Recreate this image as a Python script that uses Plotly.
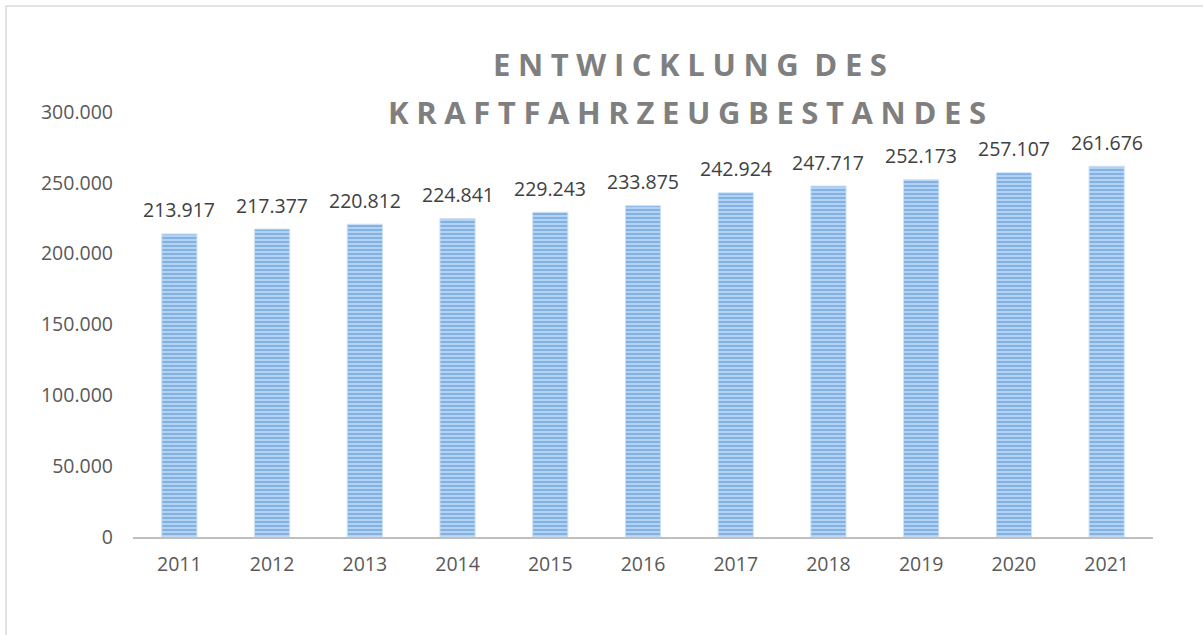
import plotly.graph_objects as go

years = ["2011", "2012", "2013", "2014", "2015", "2016", "2017", "2018", "2019", "2020", "2021"]
values = [213917, 217377, 220812, 224841, 229243, 233875, 242924, 247717, 252173, 257107, 261676]
title_line1 = ["ENTWICKLUNG", "DES"]
title_line2 = "KRAFTFAHRZEUGBESTANDES"
y_ticks = [0, 50000, 100000, 150000, 200000, 250000, 300000]

W, H = 1203, 635
ML, MR, MT, MB = 133, 50, 112, 98
PW = W - ML - MR
PH = H - MT - MB
LS = "letter-spacing:7.6px"

def fmt(v):
    return f"{v:,}".replace(",", ".")

fig = go.Figure()
fig.add_trace(go.Bar(
    x=years, y=values,
    marker=dict(
        color="#b4d2f0",
        line=dict(color="#cfe2f4", width=1),
        pattern=dict(shape="-", fgcolor="#4a8fd6", bgcolor="#b8d5f1", size=4, solidity=0.55),
    ),
    hoverinfo="skip",
))

annotations = []
for i, v in enumerate(values):
    annotations.append(dict(
        x=i, y=v, xref="x", yref="y", text=fmt(v), showarrow=False,
        yanchor="middle", yshift=24,
        font=dict(family="Open Sans", size=19.5, color="#404040"),
    ))

w1, w2 = title_line1
t1 = f'<span style="{LS}">{w1[:-1]}</span>{w1[-1]}<span style="{LS}"> {w2}</span>'
t2 = f'<span style="{LS}">{title_line2}</span>'
title_font = dict(family="Open Sans", size=31, color="#7f7f7f", weight="bold")
annotations.append(dict(
    x=(694 - ML) / PW, y=(MT + PH - 64) / PH, xref="paper", yref="paper",
    text=t1, showarrow=False, xanchor="center", yanchor="middle", font=title_font,
))
annotations.append(dict(
    x=(691 - ML) / PW, y=(MT + PH - 112) / PH, xref="paper", yref="paper",
    text=t2, showarrow=False, xanchor="center", yanchor="middle", font=title_font,
))

# outer frame (top and left edges visible)
x0 = (6 - ML) / PW
y_top = (MT + PH - 6) / PH
x_right = (W + 5 - ML) / PW
y_bot = (MT + PH - (H + 5)) / PH
shapes = [dict(type="rect", xref="paper", yref="paper", x0=x0, x1=x_right, y0=y_bot, y1=y_top,
               line=dict(color="#d9d9d9", width=1.5), fillcolor="rgba(0,0,0,0)", layer="below")]

fig.update_layout(
    width=W, height=H,
    margin=dict(l=ML, r=MR, t=MT, b=MB),
    paper_bgcolor="white", plot_bgcolor="white",
    separators=",.",
    bargap=0.62,
    showlegend=False,
    annotations=annotations,
    shapes=shapes,
    xaxis=dict(
        type="category", range=[-0.5, len(years) - 0.5],
        showline=True, linecolor="#bfbfbf", linewidth=2,
        showgrid=False, ticks="", ticklabelstandoff=9,
        tickfont=dict(family="Open Sans", size=19.5, color="#595959"),
    ),
    yaxis=dict(
        range=[0, 300000], tickvals=y_ticks, ticktext=[fmt(v) for v in y_ticks],
        showgrid=False, showline=False, zeroline=False, ticks="",
        ticklabelstandoff=19,
        tickfont=dict(family="Open Sans", size=19.5, color="#595959"),
    ),
)

fig.write_html("out.html", config={"displayModeBar": False},
               post_script="document.body.style.margin='0';")
